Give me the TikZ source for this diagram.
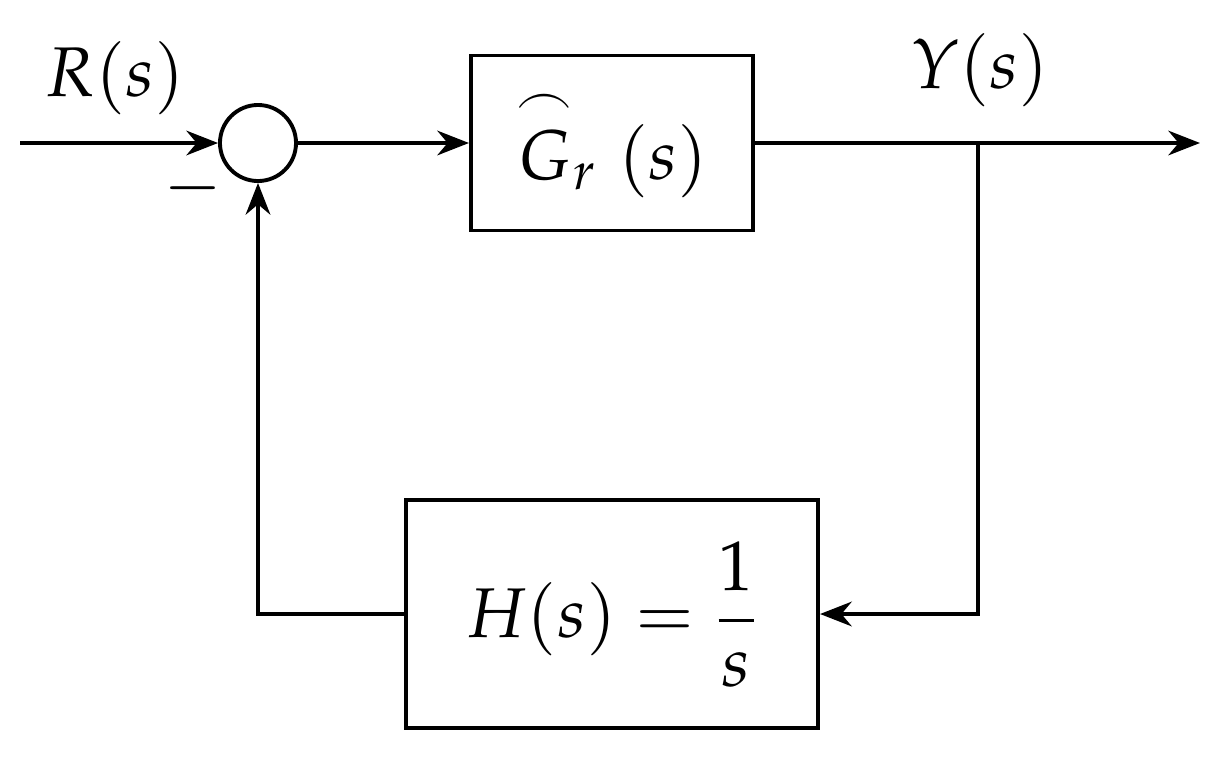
\documentclass[tikz,border=0pt]{standalone}
\usepackage{mathpazo}
\usepackage{amsmath}
\usetikzlibrary{arrows.meta}
\tikzset{
  blk/.style={draw, line width=1.1pt, inner sep=0pt},
  sig/.style={line width=1.1pt, -{Stealth[length=9pt,width=7pt]}},
  wire/.style={line width=1.1pt}
}
\begin{document}
\begin{tikzpicture}[x=0.01cm, y=-0.01cm, font=\fontsize{20}{24}\selectfont]
  \useasboundingbox (0,0) rectangle (1217,757);

  % Summing junction and blocks
  \node[blk, circle, minimum size=0.76cm] (sum) at (258,143) {};
  \node[blk, minimum width=2.82cm, minimum height=1.75cm] (G) at (612,143)
    {$\overset{\frown}{G}_r\ (s)$};
  \node[blk, minimum width=4.12cm, minimum height=2.28cm] (H) at (612,614)
    {$H(s)=\dfrac{1}{s}$};

  % Points
  \coordinate (in) at (20,143);
  \coordinate (out) at (1200,143);
  \coordinate (br) at (978,143);
  \coordinate (brd) at (978,614);
  \coordinate (fb) at (258,614);

  % Connections
  \draw[sig] (in) -- (sum.west);
  \draw[sig] (sum.east) -- (G.west);
  \draw[sig] (G.east) -- (out);
  \draw[sig] (br) -- (brd) -- (H.east);
  \draw[sig] (H.west) -- (fb) -- (sum.south);

  % Labels
  \node (R) at (115,78) {$R(s)$};
  \node (Y) at (980,70) {$Y(s)$};
  \node (m) at (193,188) {$-$};
\end{tikzpicture}
\end{document}
